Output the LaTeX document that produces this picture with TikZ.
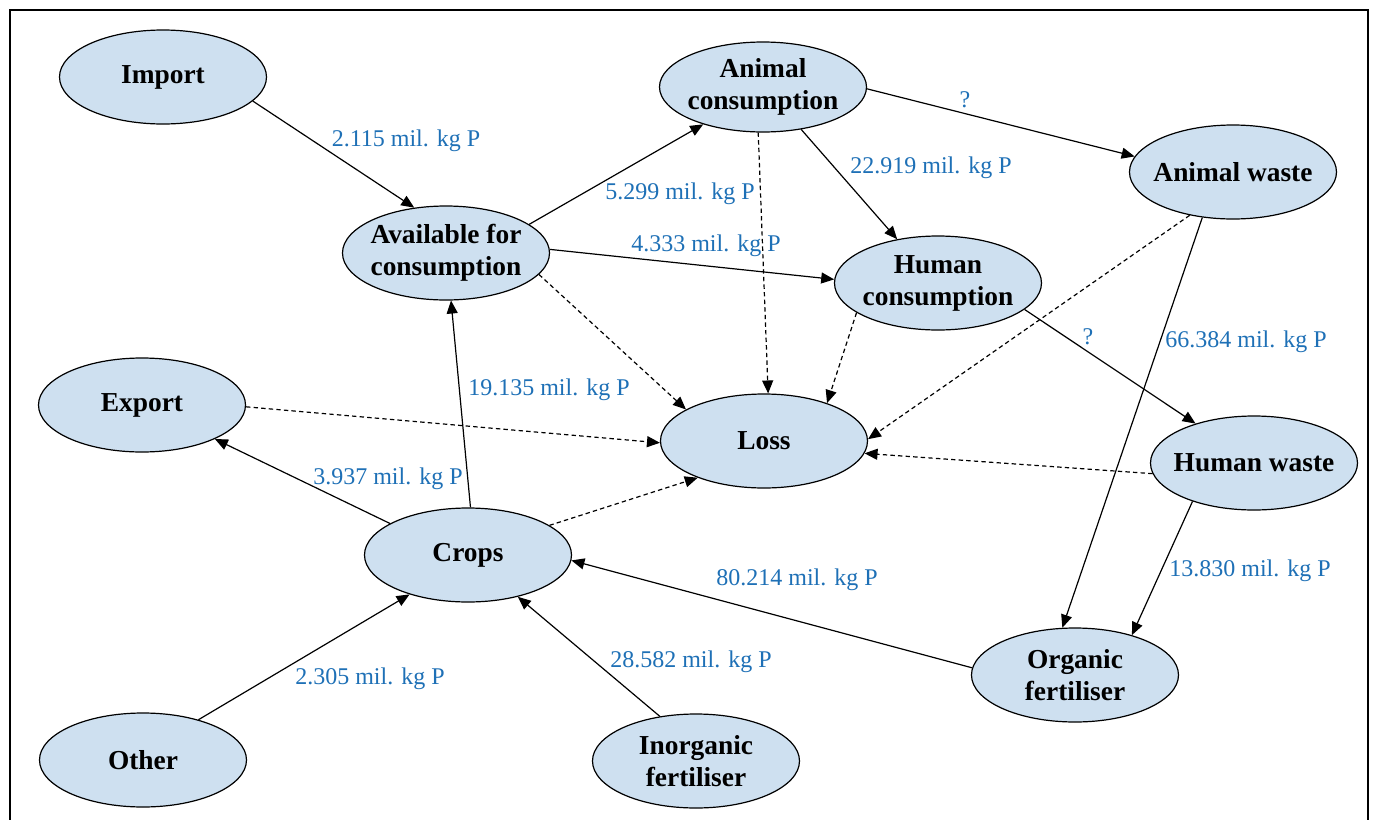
\documentclass[tikz,border=0pt]{standalone}
\usepackage{fontspec}
\setmainfont{Liberation Serif}
\usepackage{xcolor}
\usetikzlibrary{arrows.meta, positioning, shapes.geometric}
\definecolor{flowfill}{RGB}{206,224,240}
\definecolor{flowblue}{RGB}{30,112,182}

\begin{document}
\begin{tikzpicture}[x=0.5pt, y=-0.5pt,
    pool/.style={draw, ellipse, fill=flowfill, line width=0.6pt, minimum width=103.5pt, minimum height=47pt, inner xsep=-4pt, inner ysep=0pt, align=center, font=\fontsize{13.7}{16}\selectfont\bfseries},
    flow/.style={line width=0.6pt, -{Triangle[length=6.5pt, width=5.5pt]}},
    leak/.style={flow, dash pattern=on 2.2pt off 1.6pt},
    amount/.style={text=flowblue, inner sep=0pt, font=\fontsize{12}{14}\selectfont}]
    \useasboundingbox (0,0) rectangle (1373,820);
    \draw[line width=0.75pt] (10,10) rectangle (1368,840);

    % 上面一行
    \node[pool] (imp) at (163,77) {Import};
    \node[pool, minimum height=45pt] (anc) at (763,87) {Animal\\consumption};
    \node[pool] (anw) at (1233,172) {Animal waste};
    \node[pool] (avl) at (446,253) {Available for\\consumption};
    \node[pool] (huc) at (938,283) {Human\\consumption};

    % 中间
    \node[pool] (exp) at (142,405) {Export};
    \node[pool] (loss) at (764,441) {Loss};
    \node[pool] (huw) at (1254,463) {Human waste};
    \node[pool] (crop) at (468,555) {Crops};

    % 下面一行
    \node[pool] (org) at (1075,675) {Organic\\fertiliser};
    \node[pool] (oth) at (143,760) {Other};
    \node[pool] (inorg) at (696,761) {Inorganic\\fertiliser};

    % 实线流
    \draw[flow] (imp.345) -- (avl.125);
    \draw[flow] (avl.19) -- (anc.212);
    \draw[flow] (avl.2) -- (huc.178);
    \draw[flow] (anc.312) -- (huc.133);
    \draw[flow] (anc.359) -- (anw.171);
    \draw[flow] (huc.343) -- (huw.146);
    \draw[flow] (anw.236) -- (org.105);
    \draw[flow] (huw.212) -- (org.35);
    \draw[flow] (org.176) -- (crop.357);
    \draw[flow] (oth.36) -- (crop.214);
    \draw[flow] (inorg.129) -- (crop.320);
    \draw[flow] (crop.158) -- (exp.335);
    \draw[flow] (crop.87) -- (avl.276);

    % 损失（虚线）
    \draw[leak] (avl.347) -- (loss.158);
    \draw[leak] (anc.264) -- (loss.85);
    \draw[leak] (huc.200) -- (loss.31);
    \draw[leak] (anw.225) -- (loss.1);
    \draw[leak] (huw.186) -- (loss.353);
    \draw[leak] (exp.359) -- (loss.181);
    \draw[leak] (crop.20) -- (loss.209);

    % 数值
    \node[amount] (q1) at (406,141) {2.115 mil. kg P};
    \node[amount] (q2) at (680,194) {5.299 mil. kg P};
    \node[amount] (q3) at (706,246) {4.333 mil. kg P};
    \node[amount] (q4) at (931,168) {22.919 mil. kg P};
    \node[amount] (q5) at (965,100) {?};
    \node[amount] (q6) at (1246,342) {66.384 mil. kg P};
    \node[amount] (q7) at (1088,337) {?};
    \node[amount] (q8) at (1250,571) {13.830 mil. kg P};
    \node[amount] (q9) at (388,479) {3.937 mil. kg P};
    \node[amount] (q10) at (549,390) {19.135 mil. kg P};
    \node[amount] (q11) at (797,580) {80.214 mil. kg P};
    \node[amount] (q12) at (370,679) {2.305 mil. kg P};
    \node[amount] (q13) at (691,662) {28.582 mil. kg P};
\end{tikzpicture}
\end{document}
